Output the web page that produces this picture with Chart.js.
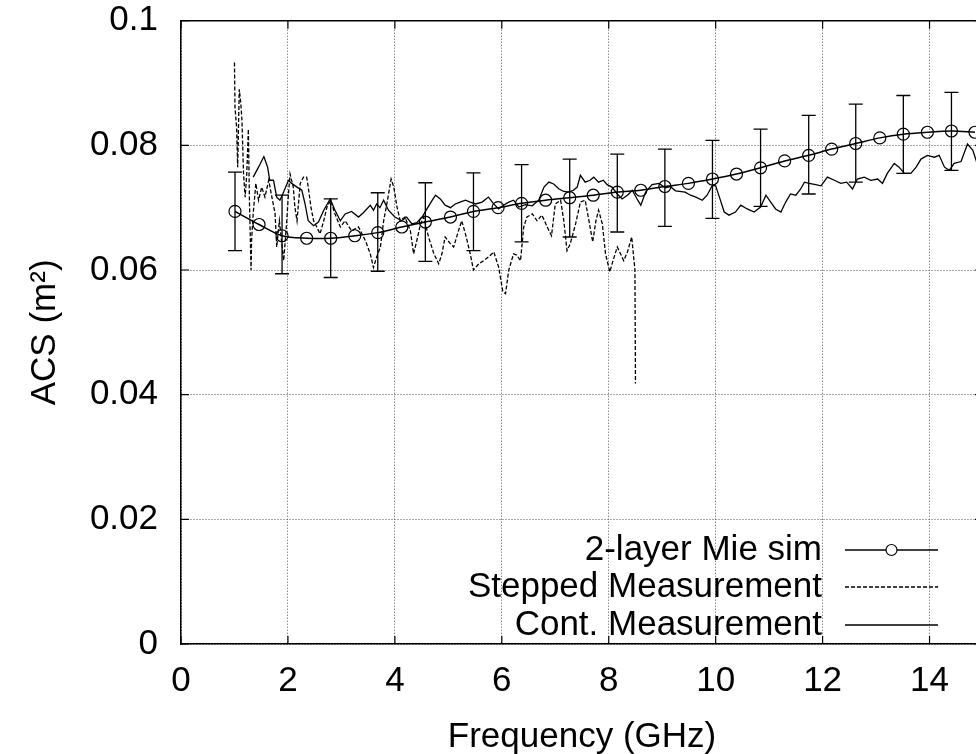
<!DOCTYPE html>
<html lang="en">
<head>
    <meta charset="UTF-8">
    <title>ACS vs Frequency</title>
    <script src="https://cdn.jsdelivr.net/npm/chart.js"></script>
    <style>
        body {
            margin: 0;
            background: #fff;
            overflow: hidden;
        }
        .frame {
            width: 976px;
            height: 754px;
            overflow: hidden;
        }
    </style>
</head>
<body>
    <div class="frame">
        <canvas id="acsChart" width="1000" height="754"></canvas>
    </div>

    <script>
        // 2-layer Mie simulation (points with circles)
        const mieFreq = [1.01, 1.46, 1.89, 2.35, 2.80, 3.25, 3.68, 4.13, 4.57, 5.04, 5.47, 5.93, 6.37, 6.82, 7.27, 7.71,
            8.16, 8.60, 9.05, 9.49, 9.94, 10.39, 10.84, 11.29, 11.74, 12.17, 12.62, 13.07, 13.51, 13.96, 14.41, 14.85];
        const mieAcs = [0.0694, 0.0673, 0.0655, 0.0651, 0.0651, 0.0655, 0.0660, 0.0669, 0.0677, 0.0685, 0.0694, 0.0700,
            0.0707, 0.0712, 0.0716, 0.0720, 0.0725, 0.0728, 0.0734, 0.0739, 0.0746, 0.0754, 0.0764, 0.0775, 0.0784,
            0.0794, 0.0803, 0.0812, 0.0818, 0.0821, 0.0823, 0.0821];

        // error bars on the simulation
        const errFreq = [1.01, 1.89, 2.80, 3.68, 4.57, 5.47, 6.37, 7.27, 8.16, 9.05, 9.94, 10.84, 11.74, 12.62, 13.51, 14.41];
        const errLow = [0.0631, 0.0594, 0.0588, 0.0598, 0.0614, 0.0631, 0.0645, 0.0653, 0.0661, 0.0670, 0.0683, 0.0702,
            0.0722, 0.0741, 0.0755, 0.0760];
        const errHigh = [0.0757, 0.0720, 0.0714, 0.0724, 0.0740, 0.0756, 0.0769, 0.0778, 0.0786, 0.0794, 0.0808, 0.0826,
            0.0848, 0.0866, 0.0880, 0.0885];

        // stepped measurement (dashed)
        const stepFreq = [1.00, 1.01, 1.04, 1.06, 1.09, 1.12, 1.14, 1.17, 1.20, 1.23, 1.26, 1.28, 1.31, 1.32, 1.35, 1.40,
            1.45, 1.51, 1.57, 1.64, 1.70, 1.76, 1.79, 1.84, 1.88, 1.92, 1.97, 2.01, 2.04, 2.10, 2.13, 2.17, 2.23, 2.29,
            2.35, 2.38, 2.43, 2.48, 2.54, 2.60, 2.67, 2.73, 2.80, 2.88, 2.98, 3.07, 3.19, 3.32, 3.45, 3.54, 3.60, 3.66,
            3.73, 3.79, 3.85, 3.93, 3.98, 4.04, 4.10, 4.19, 4.29, 4.35, 4.41, 4.48, 4.54, 4.63, 4.73, 4.82, 4.88, 4.94,
            5.04, 5.10, 5.19, 5.25, 5.32, 5.41, 5.47, 5.57, 5.66, 5.75, 5.85, 5.94, 6.02, 6.07, 6.13, 6.22, 6.28, 6.35,
            6.41, 6.47, 6.57, 6.66, 6.75, 6.85, 6.93, 7.00, 7.10, 7.16, 7.22, 7.28, 7.38, 7.47, 7.56, 7.63, 7.70, 7.76,
            7.81, 7.88, 7.94, 8.02, 8.08, 8.16, 8.22, 8.28, 8.35, 8.43, 8.46, 8.49, 8.50];
        const stepAcs = [0.0933, 0.0861, 0.0829, 0.0765, 0.0890, 0.0866, 0.0840, 0.0754, 0.0717, 0.0754, 0.0826, 0.0712,
            0.0600, 0.0647, 0.0690, 0.0739, 0.0712, 0.0733, 0.0717, 0.0744, 0.0717, 0.0690, 0.0637, 0.0679, 0.0647,
            0.0615, 0.0669, 0.0722, 0.0754, 0.0733, 0.0701, 0.0679, 0.0739, 0.0749, 0.0749, 0.0733, 0.0701, 0.0679,
            0.0669, 0.0658, 0.0679, 0.0701, 0.0712, 0.0690, 0.0669, 0.0679, 0.0663, 0.0669, 0.0647, 0.0626, 0.0604,
            0.0621, 0.0637, 0.0679, 0.0706, 0.0746, 0.0733, 0.0701, 0.0679, 0.0685, 0.0663, 0.0626, 0.0647, 0.0674,
            0.0685, 0.0653, 0.0626, 0.0610, 0.0626, 0.0653, 0.0642, 0.0637, 0.0663, 0.0679, 0.0658, 0.0626, 0.0600,
            0.0610, 0.0615, 0.0621, 0.0629, 0.0605, 0.0565, 0.0562, 0.0600, 0.0626, 0.0624, 0.0615, 0.0669, 0.0685,
            0.0690, 0.0679, 0.0688, 0.0669, 0.0655, 0.0706, 0.0712, 0.0679, 0.0631, 0.0642, 0.0674, 0.0709, 0.0712,
            0.0679, 0.0645, 0.0679, 0.0696, 0.0674, 0.0626, 0.0597, 0.0615, 0.0637, 0.0626, 0.0615, 0.0629, 0.0653,
            0.0626, 0.0600, 0.0418];

        // continuous measurement (solid)
        const contFreq = [1.35, 1.45, 1.55, 1.62, 1.66, 1.73, 1.79, 1.85, 1.92, 2.01, 2.07, 2.17, 2.26, 2.32, 2.38, 2.48,
            2.57, 2.67, 2.79, 2.88, 2.98, 3.07, 3.19, 3.32, 3.41, 3.54, 3.60, 3.66, 3.72, 3.79, 3.88, 4.00, 4.13, 4.22,
            4.32, 4.41, 4.51, 4.60, 4.70, 4.76, 4.85, 4.94, 5.04, 5.13, 5.22, 5.32, 5.41, 5.51, 5.63, 5.75, 5.84, 5.94,
            6.03, 6.13, 6.22, 6.32, 6.44, 6.57, 6.69, 6.79, 6.88, 6.97, 7.07, 7.16, 7.25, 7.34, 7.41, 7.47, 7.56, 7.65,
            7.72, 7.81, 7.90, 7.97, 8.06, 8.16, 8.25, 8.35, 8.44, 8.53, 8.60, 8.69, 8.81, 8.94, 9.06, 9.15, 9.25, 9.43,
            9.53, 9.63, 9.75, 9.84, 9.94, 10.00, 10.07, 10.16, 10.25, 10.37, 10.47, 10.59, 10.72, 10.84, 10.94, 11.03,
            11.12, 11.22, 11.31, 11.40, 11.50, 11.59, 11.66, 11.75, 11.87, 11.97, 12.09, 12.22, 12.34, 12.45, 12.56,
            12.65, 12.78, 12.90, 13.03, 13.12, 13.21, 13.34, 13.43, 13.53, 13.65, 13.75, 13.84, 13.96, 14.09, 14.18,
            14.28, 14.37, 14.46, 14.59, 14.71, 14.81, 14.89, 15.00];
        const contAcs = [0.0749, 0.0765, 0.0782, 0.0765, 0.0744, 0.0744, 0.0717, 0.0712, 0.0725, 0.0744, 0.0739, 0.0733,
            0.0728, 0.0706, 0.0679, 0.0671, 0.0677, 0.0696, 0.0714, 0.0696, 0.0679, 0.0690, 0.0694, 0.0685, 0.0692,
            0.0704, 0.0696, 0.0706, 0.0700, 0.0712, 0.0696, 0.0685, 0.0679, 0.0685, 0.0674, 0.0676, 0.0685, 0.0698,
            0.0712, 0.0720, 0.0714, 0.0704, 0.0700, 0.0706, 0.0709, 0.0712, 0.0709, 0.0706, 0.0709, 0.0717, 0.0707,
            0.0698, 0.0704, 0.0709, 0.0712, 0.0701, 0.0705, 0.0703, 0.0712, 0.0733, 0.0741, 0.0738, 0.0730, 0.0726,
            0.0725, 0.0728, 0.0733, 0.0752, 0.0741, 0.0744, 0.0749, 0.0741, 0.0744, 0.0737, 0.0733, 0.0722, 0.0714,
            0.0720, 0.0728, 0.0714, 0.0704, 0.0725, 0.0737, 0.0739, 0.0732, 0.0734, 0.0727, 0.0725, 0.0720, 0.0717,
            0.0712, 0.0720, 0.0736, 0.0735, 0.0717, 0.0693, 0.0688, 0.0693, 0.0704, 0.0698, 0.0693, 0.0701, 0.0720,
            0.0709, 0.0698, 0.0693, 0.0709, 0.0722, 0.0720, 0.0730, 0.0741, 0.0739, 0.0737, 0.0735, 0.0749, 0.0744,
            0.0739, 0.0741, 0.0730, 0.0746, 0.0749, 0.0744, 0.0746, 0.0739, 0.0755, 0.0771, 0.0765, 0.0755, 0.0755,
            0.0765, 0.0778, 0.0784, 0.0781, 0.0784, 0.0765, 0.0760, 0.0771, 0.0774, 0.0802, 0.0792, 0.0771, 0.0770];

        const xTicks = [0, 2, 4, 6, 8, 10, 12, 14];
        const yTicks = [0, 0.02, 0.04, 0.06, 0.08, 0.1];
        const legendLabels = ['2-layer Mie sim', 'Stepped Measurement', 'Cont. Measurement'];

        const FONT = 'Liberation Sans, Arial, sans-serif';
        const pts = (xs, ys) => xs.map((x, i) => ({ x: x, y: ys[i] }));

        // gnuplot look: error bars, inward ticks, top border and the key
        const gnuplotExtras = {
            id: 'gnuplotExtras',
            afterDatasetsDraw(chart) {
                const { ctx, chartArea: a, scales: { x, y } } = chart;
                ctx.save();
                ctx.beginPath();
                ctx.rect(a.left, a.top, a.right - a.left, a.bottom - a.top);
                ctx.clip();
                ctx.strokeStyle = '#000';
                ctx.lineWidth = 1.3;
                errFreq.forEach((f, i) => {
                    const px = x.getPixelForValue(f);
                    const lo = y.getPixelForValue(errLow[i]);
                    const hi = y.getPixelForValue(errHigh[i]);
                    ctx.beginPath();
                    ctx.moveTo(px, lo); ctx.lineTo(px, hi);
                    ctx.moveTo(px - 7, lo); ctx.lineTo(px + 7, lo);
                    ctx.moveTo(px - 7, hi); ctx.lineTo(px + 7, hi);
                    ctx.stroke();
                });
                ctx.restore();
            },
            afterDraw(chart) {
                const { ctx, chartArea: a, scales: { x, y } } = chart;
                ctx.save();
                ctx.strokeStyle = '#000';
                ctx.lineWidth = 1.5;
                ctx.beginPath();
                ctx.moveTo(a.left, a.top); ctx.lineTo(a.right, a.top);
                ctx.moveTo(a.right, a.top); ctx.lineTo(a.right, a.bottom);
                ctx.stroke();

                ctx.lineWidth = 1.2;
                ctx.beginPath();
                xTicks.forEach(t => {
                    const px = x.getPixelForValue(t);
                    ctx.moveTo(px, a.bottom); ctx.lineTo(px, a.bottom - 8);
                    ctx.moveTo(px, a.top); ctx.lineTo(px, a.top + 8);
                });
                yTicks.forEach(t => {
                    const py = y.getPixelForValue(t);
                    ctx.moveTo(a.left, py); ctx.lineTo(a.left + 8, py);
                    ctx.moveTo(a.right, py); ctx.lineTo(a.right - 8, py);
                });
                ctx.stroke();

                // key, bottom right
                const textRight = a.left + 641;
                const sx1 = a.left + 664, sx2 = a.left + 757;
                const rows = [a.bottom - 94, a.bottom - 57, a.bottom - 19];
                ctx.font = '35px ' + FONT;
                ctx.fillStyle = '#000';
                ctx.textAlign = 'right';
                ctx.textBaseline = 'middle';
                legendLabels.forEach((lab, i) => {
                    ctx.fillText(lab, textRight, rows[i]);
                    ctx.beginPath();
                    ctx.lineWidth = i === 0 ? 1.5 : 1.3;
                    ctx.setLineDash(i === 1 ? [4, 2] : []);
                    ctx.moveTo(sx1, rows[i]); ctx.lineTo(sx2, rows[i]);
                    ctx.stroke();
                });
                ctx.setLineDash([]);
                ctx.lineWidth = 1.2;
                ctx.beginPath();
                ctx.arc((sx1 + sx2) / 2, rows[0], 5.5, 0, Math.PI * 2);
                ctx.fillStyle = '#fff';
                ctx.fill();
                ctx.stroke();
                ctx.restore();
            }
        };

        new Chart(document.getElementById('acsChart'), {
            type: 'line',
            data: {
                datasets: [{
                    label: legendLabels[0],
                    data: pts(mieFreq, mieAcs),
                    borderColor: '#000',
                    borderWidth: 1.5,
                    tension: 0.3,
                    pointRadius: 6,
                    pointBorderWidth: 1.2,
                    pointBorderColor: '#000',
                    pointBackgroundColor: 'rgba(0,0,0,0)'
                }, {
                    label: legendLabels[1],
                    data: pts(stepFreq, stepAcs),
                    borderColor: '#000',
                    borderWidth: 1.3,
                    borderDash: [4, 2],
                    pointRadius: 0
                }, {
                    label: legendLabels[2],
                    data: pts(contFreq, contAcs),
                    borderColor: '#000',
                    borderWidth: 1.3,
                    pointRadius: 0
                }]
            },
            options: {
                responsive: false,
                animation: false,
                layout: { padding: { left: 0, top: 20.7, right: 17, bottom: 0 } },
                plugins: {
                    legend: { display: false },
                    tooltip: { enabled: false }
                },
                scales: {
                    x: {
                        type: 'linear',
                        min: 0,
                        max: 15,
                        afterFit: s => { s.height = 110; s.paddingLeft = 0; s.paddingRight = 0; },
                        afterBuildTicks: s => { s.ticks = xTicks.map(v => ({ value: v })); },
                        ticks: {
                            color: '#000',
                            padding: 16,
                            font: { family: FONT, size: 35 }
                        },
                        grid: { color: '#555', lineWidth: 1, drawTicks: false },
                        border: { color: '#000', width: 1.5, dash: [1, 2] },
                        title: {
                            display: true,
                            text: 'Frequency (GHz)',
                            color: '#000',
                            padding: { top: 0, bottom: -4 },
                            font: { family: FONT, size: 35 }
                        }
                    },
                    y: {
                        min: 0,
                        max: 0.1,
                        afterFit: s => { s.width = 181; s.paddingTop = 0; s.paddingBottom = 0; },
                        afterBuildTicks: s => { s.ticks = yTicks.map(v => ({ value: v })); },
                        ticks: {
                            color: '#000',
                            padding: 23,
                            font: { family: FONT, size: 35 },
                            callback: v => String(+v.toFixed(2))
                        },
                        grid: { color: '#555', lineWidth: 1, drawTicks: false },
                        border: { color: '#000', width: 1.5, dash: [1, 2] },
                        title: {
                            display: true,
                            text: 'ACS (m²)',
                            color: '#000',
                            padding: { top: 24, bottom: 0 },
                            font: { family: FONT, size: 35 }
                        }
                    }
                }
            },
            plugins: [gnuplotExtras]
        });
    </script>
</body>
</html>
